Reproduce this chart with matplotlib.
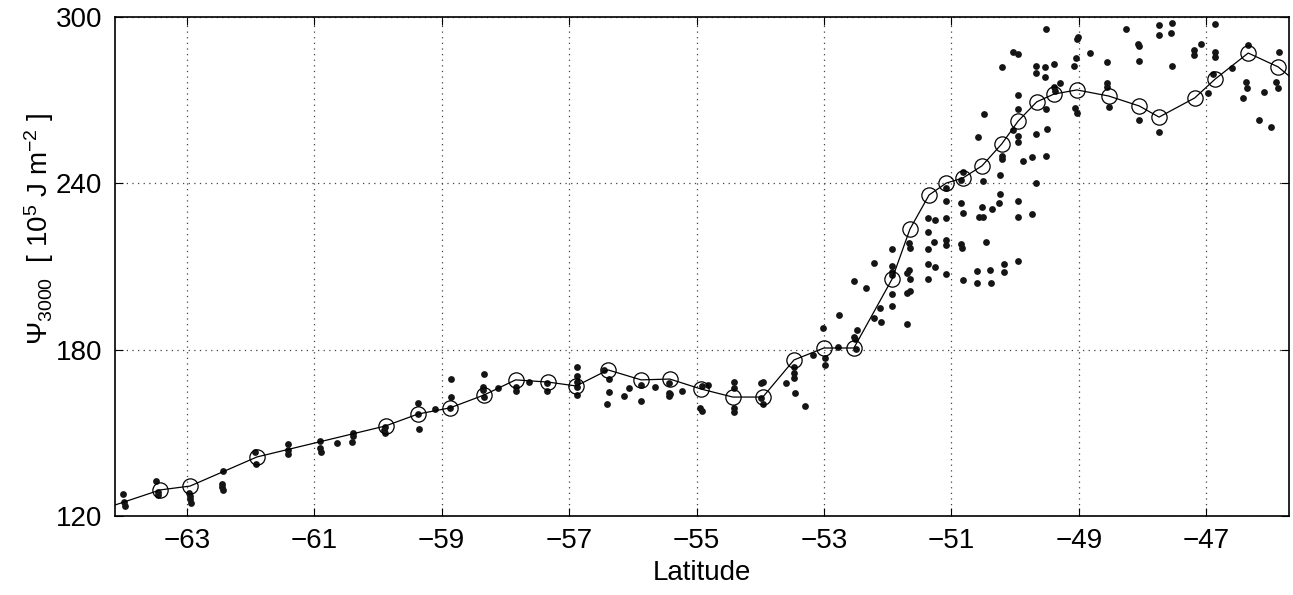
import numpy as np
import matplotlib
matplotlib.use('Agg')
import matplotlib.pyplot as plt

plt.rcParams['font.family'] = ['Liberation Sans', 'DejaVu Sans']
plt.rcParams['mathtext.fontset'] = 'custom'
plt.rcParams['mathtext.rm'] = 'Liberation Sans'
plt.rcParams['mathtext.it'] = 'Liberation Sans:italic'

# binned mean (open circles joined by a line); first and last points lie outside the axes
line_lat = [-64.45, -63.42, -62.95, -61.90, -59.88, -59.37, -58.87, -58.34, -57.84,
            -57.33, -56.89, -56.39, -55.87, -55.42, -54.93, -54.43, -53.96, -53.47,
            -53.00, -52.53, -51.93, -51.65, -51.35, -51.08, -50.82, -50.52, -50.21,
            -49.95, -49.66, -49.39, -49.03, -48.53, -48.05, -47.74, -47.18, -46.86,
            -46.34, -45.87, -45.40]
line_psi = [121.5, 129.4, 130.8, 141.3, 152.5, 156.8, 159.0, 163.6, 169.1,
            168.3, 166.9, 172.7, 169.1, 169.4, 165.8, 162.9, 162.9, 176.3,
            180.6, 180.6, 205.5, 223.5, 235.8, 240.1, 241.9, 246.3, 254.2,
            262.5, 269.4, 272.2, 273.7, 271.5, 267.9, 263.9, 270.8, 277.6,
            287.0, 282.0, 273.0]

# individual profiles (small dots)
dot_lat = [-64.00, -63.99, -63.97, -63.48, -63.46, -63.45, -62.96, -62.95, -62.95, -62.94,
           -62.44, -62.45, -62.45, -62.44, -61.93, -61.92, -61.42, -61.42, -61.41,
           -60.91, -60.91, -60.90, -60.65, -60.40, -60.40, -60.41, -59.89, -59.90, -59.89,
           -59.38, -59.37, -59.36, -59.11, -58.86, -58.86, -58.87,
           -58.33, -58.36, -58.35, -58.33, -58.12, -57.84, -57.84, -57.63, -57.35, -57.35,
           -56.88, -56.88, -56.88, -56.88, -56.88, -56.46, -56.38, -56.38, -56.41,
           -56.14, -56.06, -55.87, -55.87, -55.65, -55.43, -55.43, -55.43, -55.41, -55.23,
           -54.92, -54.82, -54.94, -54.92, -54.42, -54.42, -54.42, -54.42,
           -53.99, -53.95, -53.99, -53.95, -53.59, -53.47, -53.47, -53.47, -53.46, -53.29,
           -53.17, -52.98, -52.98, -52.78,
           -53.01, -52.76, -52.53, -52.53, -52.51, -52.48, -52.50, -52.34, -52.21, -52.21,
           -52.12, -52.11, -51.93, -51.93, -51.93, -51.93, -51.93, -51.93,
           -51.70, -51.69, -51.66, -51.65, -51.69, -51.65, -51.66, -51.65,
           -51.36, -51.26, -51.36, -51.36, -51.27, -51.36, -51.26, -51.36,
           -51.08, -51.08, -51.08, -51.08, -51.08, -51.08,
           -50.85, -50.82, -50.85, -50.83, -50.81, -50.60, -50.60, -50.57, -50.51, -50.52,
           -50.46, -50.36, -50.39, -50.38, -50.24, -50.25, -50.17, -50.17,
           -49.95, -49.96, -49.95, -49.73, -50.51, -49.67,
           -49.51, -49.03, -49.01, -49.04, -48.82, -49.08, -49.39, -49.53, -49.67, -49.67,
           -49.53, -50.20, -50.04, -49.95, -49.30, -49.39, -49.38, -49.95, -49.96, -50.48,
           -49.51, -49.06, -49.03, -50.58, -50.03, -49.96, -49.96, -49.67, -49.50,
           -50.21, -50.21, -50.24, -49.87, -49.74, -49.51, -50.82, -50.85,
           -48.56, -48.55, -48.52, -48.55, -48.26, -48.07, -48.06, -48.06, -47.74, -47.74,
           -47.54, -47.55, -47.54, -48.06, -47.74, -47.08, -47.19, -47.19,
           -46.86, -46.86, -46.86, -46.89, -46.97, -46.60, -46.35, -46.38, -46.36, -46.42,
           -46.09, -46.17, -45.98, -45.85, -45.90, -45.87]
dot_psi = [127.8, 124.9, 123.7, 132.7, 128.8, 127.6, 128.4, 127.2, 126.0, 124.6,
           136.2, 131.5, 130.4, 129.4, 143.2, 138.8, 145.9, 143.8, 142.3,
           147.1, 144.6, 143.2, 146.4, 150.1, 148.9, 146.6, 152.2, 151.0, 149.8,
           160.9, 156.8, 151.4, 158.5, 169.5, 163.0, 159.1,
           171.1, 166.6, 165.5, 163.0, 166.1, 166.4, 165.1, 168.2, 168.1, 165.2,
           173.6, 170.5, 168.4, 166.4, 163.7, 172.7, 169.3, 164.8, 160.3,
           163.4, 166.1, 167.3, 161.6, 166.4, 167.9, 164.5, 163.3, 163.9, 165.2,
           166.9, 167.3, 158.9, 157.9, 168.5, 166.1, 158.9, 157.4,
           167.9, 168.2, 162.5, 160.4, 167.9, 173.9, 171.5, 169.7, 164.3, 159.7,
           178.1, 176.9, 174.5, 180.9,
           187.9, 192.5, 204.8, 184.7, 183.7, 187.1, 180.2, 202.4, 211.2, 191.5,
           195.1, 190.1, 216.3, 210.2, 208.1, 206.9, 200.0, 195.9,
           189.3, 207.6, 208.7, 205.4, 200.3, 201.2, 218.4, 216.8,
           227.4, 226.8, 222.4, 216.3, 218.7, 210.8, 209.9, 205.4,
           238.2, 233.7, 227.4, 219.6, 217.8, 207.3,
           232.8, 229.2, 218.0, 216.8, 205.1, 208.4, 203.9, 228.0, 228.0, 231.4,
           218.7, 230.7, 208.7, 204.2, 236.2, 233.0, 210.8, 208.1,
           233.7, 227.7, 212.1, 228.9, 240.9, 240.2,
           295.6, 292.0, 292.7, 285.3, 286.9, 282.3, 283.1, 281.9, 282.3, 279.7,
           278.3, 281.9, 287.5, 286.6, 276.1, 274.7, 273.3, 271.8, 266.8, 264.9,
           266.7, 267.1, 265.3, 256.6, 259.2, 257.1, 254.8, 257.7, 259.6,
           249.9, 248.8, 243.0, 248.1, 249.6, 250.0, 244.2, 241.2,
           276.1, 274.7, 267.4, 283.6, 295.7, 290.2, 289.6, 284.3, 297.1, 293.5,
           298.0, 294.1, 282.3, 262.9, 258.6, 290.3, 288.1, 286.3,
           297.5, 287.2, 285.5, 279.4, 272.7, 281.5, 289.9, 276.7, 274.3, 270.7,
           273.1, 262.9, 260.2, 287.3, 276.7, 274.3]

x_ticks = [-63, -61, -59, -57, -55, -53, -51, -49, -47]
y_ticks = [120, 180, 240, 300]

fig = plt.figure(figsize=(12.93, 5.95), dpi=100)
ax = fig.add_axes([0.0889, 0.1328, 0.908, 0.8386])

ax.plot(dot_lat, dot_psi, 'o', color='#151515', markersize=4.9, markeredgewidth=0, zorder=3)
ax.plot(line_lat, line_psi, '-', color='k', linewidth=0.9, zorder=4)
ax.plot(line_lat[1:-1], line_psi[1:-1], 'o', markerfacecolor='none', markeredgecolor='k',
        markersize=11, markeredgewidth=0.9, zorder=5)

ax.set_xlim(-64.13, -45.7)
ax.set_ylim(120, 300)
ax.set_xticks(x_ticks)
ax.set_yticks(y_ticks)
ax.grid(True, linestyle=(0, (1, 3.5)), color='#444444', linewidth=0.9)
ax.set_axisbelow(True)
ax.tick_params(direction='in', top=True, right=True, length=6, width=0.8,
               labelsize=20, pad=9)
for sp in ax.spines.values():
    sp.set_linewidth(1.2)

ax.set_xlabel('Latitude', fontsize=20, labelpad=4)
ax.set_ylabel(r'$\Psi_{3000}$  [ 10$^5$ J m$^{-2}$ ]', fontsize=20)
ax.yaxis.set_label_coords(-0.05, 0.575)

fig.savefig('out.png', dpi=100)
